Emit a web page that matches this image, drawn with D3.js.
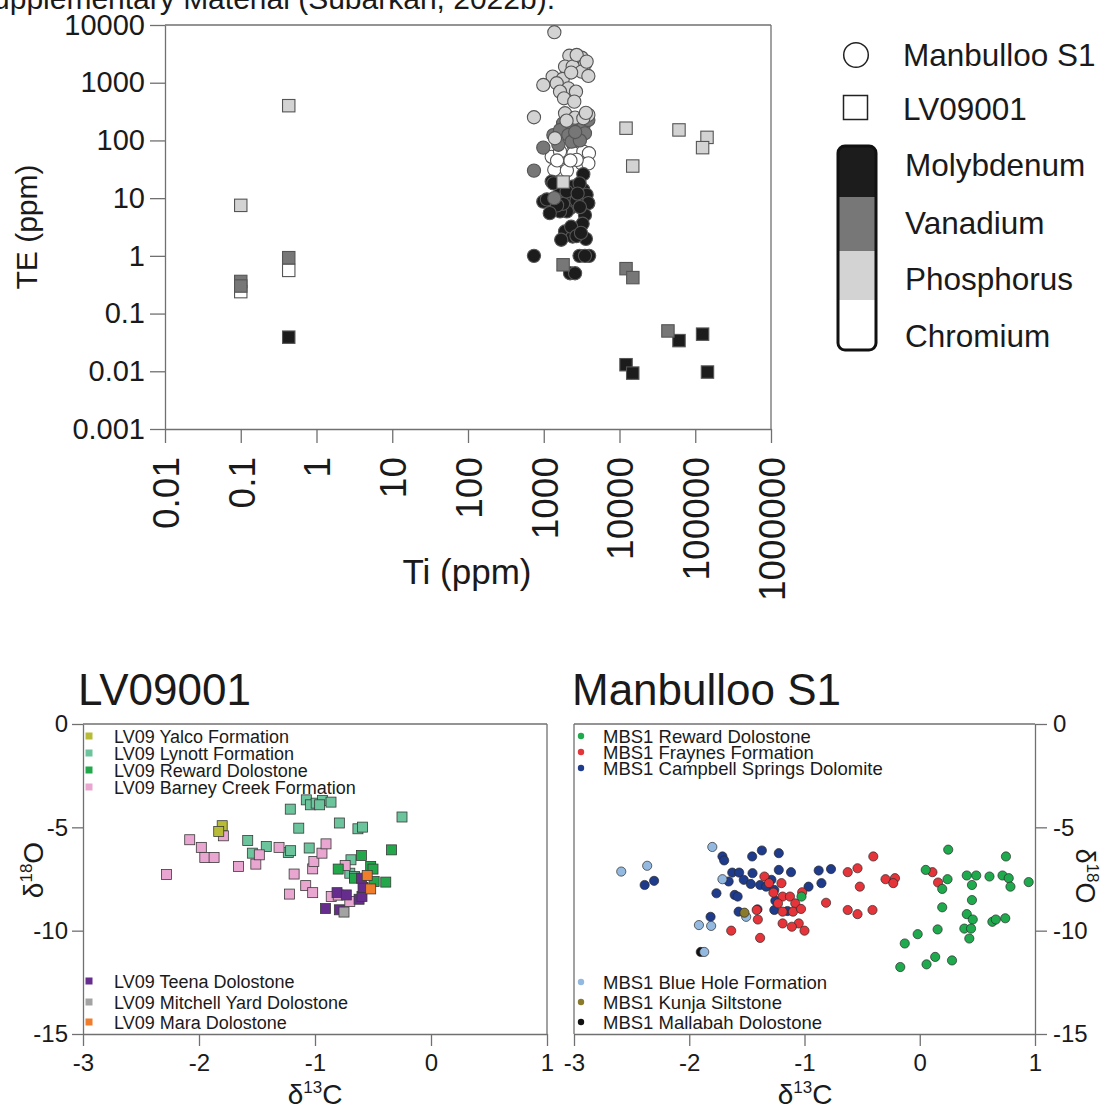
<!DOCTYPE html>
<html>
<head>
<meta charset="utf-8">
<script src="https://cdn.jsdelivr.net/npm/d3@7"></script>
<style>
  html, body { margin: 0; padding: 0; background: #fff; }
  svg { display: block; }
  text { font-family: "Liberation Sans", Arial, Helvetica, sans-serif; fill: #1a1a1a; }
</style>
</head>
<body>
<svg id="fig" width="1103" height="1111"></svg>
<script>
// ---------- Trace elements vs Ti (ppm) ----------
// Manbulloo S1 samples: [Ti, TE]
const mbsMolybdenum = [
  [3330, 26], [1273, 19.4], [3330, 13.9], [986, 8.7], [1406, 6.7], [1910, 10.6], [2225, 6.7],
  [3680, 11.4], [3880, 8.2], [3500, 5.1], [3260, 3.6], [1910, 2.64], [2410, 2.16], [3600, 1.97],
  [1700, 1.9], [743, 1.0], [2970, 1.0], [3970, 1.0], [3500, 1.0], [2225, 0.5], [2590, 0.5],
  [1640, 12.2], [2470, 15.9], [1483, 9.3], [2020, 5.9], [1640, 5.9], [1340, 18], [2970, 18],
  [1100, 9.5], [1800, 8], [2700, 9], [3000, 7], [2000, 13], [1500, 7.5], [2800, 12],
  [1200, 5.5], [2300, 3.2], [2700, 2.2], [3100, 2.5]
];
const mbsVanadium = [
  [986, 75], [743, 30], [1377, 10], [1340, 124], [1800, 198], [2470, 174], [3330, 174],
  [3880, 226], [1640, 152], [2110, 124], [2845, 124], [3500, 133], [2330, 95], [1560, 84],
  [2200, 210], [3000, 100], [2600, 140]
];
const mbsPhosphorus = [
  [1380, 7500], [2175, 2940], [3170, 2715], [3500, 2085], [1910, 1900], [2410, 1900],
  [3170, 1555], [3880, 1310], [1310, 1275], [1780, 1160], [986, 915], [1483, 980], [2110, 800],
  [2665, 700], [1640, 700], [1850, 537], [2530, 470], [743, 252], [1910, 296], [2590, 248],
  [3880, 277], [3330, 242], [1406, 109], [2720, 3030], [3680, 2320], [2300, 1500], [2000, 220],
  [3600, 300]
];
const mbsChromium = [
  [2505, 80], [1273, 52], [1800, 52], [2470, 60], [3330, 64], [3950, 60], [3170, 40],
  [1377, 31], [2020, 30], [3880, 40], [1640, 64], [2720, 46], [2250, 45], [1500, 45]
];
// LV09001 samples: [Ti, TE]
const lvMolybdenum = [[0.43, 0.039], [12200, 0.013], [14950, 0.0093], [61000, 0.034], [125000, 0.044], [145000, 0.0097]];
const lvVanadium = [[0.1, 0.36], [0.1, 0.30], [0.43, 0.93], [1800, 0.7], [12200, 0.6], [15000, 0.42], [43600, 0.05]];
const lvPhosphorus = [[0.1, 7.5], [0.43, 400], [1800, 19], [12200, 163], [14950, 36], [61000, 152], [143000, 113], [125000, 75]];
const lvChromium = [[0.1, 0.24], [0.43, 0.56]];

const teTicks = [0.001, 0.01, 0.1, 1, 10, 100, 1000, 10000];
const teTickLabels = ["0.001", "0.01", "0.1", "1", "10", "100", "1000", "10000"];
const tiTicks = [0.01, 0.1, 1, 10, 100, 1000, 10000, 100000, 1000000];
const tiTickLabels = ["0.01", "0.1", "1", "10", "100", "1000", "10000", "100000", "1000000"];

const elementNames = ["Molybdenum", "Vanadium", "Phosphorus", "Chromium"];
const elementFills = ["#1c1c1c", "#777777", "#d3d3d3", "#ffffff"];

// ---------- LV09001 carbon / oxygen isotopes: [d13C, d18O] ----------
const lvYalco = [[-1.80, -4.92], [-1.83, -5.2]];
const lvLynott = [
  [-1.075, -3.67], [-1.04, -3.91], [-0.99, -3.83], [-0.935, -3.7], [-0.862, -3.78], [-0.96, -3.91],
  [-1.213, -4.12], [-0.25, -4.5], [-0.79, -4.79], [-0.63, -5.07], [-0.59, -4.99], [-1.14, -5.04],
  [-1.58, -5.64], [-1.42, -5.93], [-1.54, -6.25], [-1.23, -6.22], [-1.21, -6.13], [-1.05, -6.0],
  [-0.69, -6.57], [-0.70, -7.22], [-0.66, -7.38]
];
const lvReward = [[-0.34, -6.09], [-0.60, -6.36], [-0.80, -7.02], [-0.52, -6.89], [-0.50, -7.02], [-0.39, -7.65], [-0.49, -7.62], [-0.66, -7.46]];
const lvBarneyCreek = [
  [-2.08, -5.6], [-1.98, -5.97], [-1.95, -6.46], [-1.87, -6.46], [-1.79, -5.41], [-2.28, -7.28],
  [-1.66, -6.89], [-1.51, -6.78], [-1.48, -6.33], [-1.31, -5.97], [-1.18, -7.26], [-1.22, -8.23],
  [-1.08, -7.82], [-1.02, -8.16], [-1.02, -7.01], [-1.01, -6.65], [-0.94, -6.25], [-0.905, -5.8],
  [-0.86, -8.35], [-0.80, -8.28], [-0.70, -8.59], [-0.74, -6.85]
];
const lvTeena = [[-0.91, -8.93], [-0.79, -8.99], [-0.81, -8.16], [-0.73, -8.27], [-0.62, -8.48], [-0.595, -8.35], [-0.586, -7.91], [-0.60, -7.46]];
const lvMitchellYard = [[-0.75, -9.1]];
const lvMara = [[-0.55, -7.33], [-0.52, -7.98]];

// ---------- Manbulloo S1 carbon / oxygen isotopes: [d13C, d18O] ----------
const mbsReward = [
  [0.247, -6.08], [0.748, -6.41], [0.052, -7.06], [0.241, -7.51], [0.408, -7.33], [0.49, -7.33],
  [0.605, -7.38], [0.718, -7.33], [0.772, -7.46], [0.787, -7.87], [0.945, -7.65], [0.453, -7.79],
  [0.195, -7.98], [-1.026, -8.35], [0.453, -8.52], [0.195, -8.87], [0.408, -9.2], [0.46, -9.46],
  [0.63, -9.57], [0.66, -9.46], [0.742, -9.4], [0.155, -9.94], [0.387, -9.9], [0.445, -9.9],
  [0.43, -10.38], [-0.018, -10.17], [-0.13, -10.62], [0.134, -11.27], [0.059, -11.63],
  [-0.169, -11.76], [0.28, -11.44]
];
const mbsFraynes = [
  [-0.403, -6.41], [-0.54, -6.98], [-0.625, -7.17], [-0.215, -7.46], [-0.297, -7.51], [-0.23, -7.7],
  [-0.52, -7.87], [0.11, -7.17], [0.159, -7.67], [-0.813, -8.65], [-0.625, -9.0], [-0.54, -9.2],
  [-0.41, -9.0], [-1.348, -7.38], [-1.308, -7.7], [-1.2, -7.7], [-1.27, -8.16], [-1.19, -8.35],
  [-1.126, -8.35], [-1.08, -8.68], [-1.02, -8.14], [-1.23, -8.68], [-1.19, -9.08], [-1.1, -9.08],
  [-1.03, -8.95], [-1.05, -9.65], [-1.19, -9.65], [-1.11, -9.81], [-1.0, -10.0], [-1.405, -9.46],
  [-1.415, -9.0], [-1.636, -10.0], [-1.385, -10.35]
];
const mbsCampbell = [
  [-1.37, -6.12], [-1.454, -6.41], [-1.223, -6.25], [-1.712, -6.41], [-1.697, -6.6], [-1.627, -7.19],
  [-1.567, -7.19], [-1.451, -7.22], [-1.223, -7.06], [-1.117, -7.17], [-0.877, -7.09], [-0.77, -7.02],
  [-0.853, -7.7], [-0.965, -7.87], [-1.658, -7.62], [-1.527, -7.54], [-1.466, -7.74], [-1.385, -7.79],
  [-1.333, -7.87], [-1.262, -8.03], [-1.764, -8.19], [-1.606, -8.27], [-1.58, -8.35], [-1.253, -8.55],
  [-1.262, -9.0], [-1.148, -9.05], [-1.408, -8.97], [-1.572, -9.08], [-1.815, -9.33], [-2.387, -7.79],
  [-2.305, -7.59], [-1.287, -7.54]
];
const mbsBlueHole = [[-1.8, -5.95], [-2.59, -7.14], [-2.365, -6.86], [-1.712, -7.51], [-1.916, -9.73], [-1.81, -9.77], [-1.87, -11.03], [-1.506, -9.33]];
const mbsKunja = [[-1.521, -9.13]];
const mbsMallabah = [[-1.9, -11.03]];

const c13Ticks = [-3, -2, -1, 0, 1];
const c13TickLabels = ["-3", "-2", "-1", "0", "1"];
const o18Ticks = [0, -5, -10, -15];
const o18TickLabels = ["0", "-5", "-10", "-15"];

const lvLegendTop = ["LV09 Yalco Formation", "LV09 Lynott Formation", "LV09 Reward Dolostone", "LV09 Barney Creek Formation"];
const lvLegendBottom = ["LV09 Teena Dolostone", "LV09 Mitchell Yard Dolostone", "LV09 Mara Dolostone"];
const mbsLegendTop = ["MBS1 Reward Dolostone", "MBS1 Fraynes Formation", "MBS1 Campbell Springs Dolomite"];
const mbsLegendBottom = ["MBS1 Blue Hole Formation", "MBS1 Kunja Siltstone", "MBS1 Mallabah Dolostone"];

// ---------- drawing ----------
const svg = d3.select("#fig");
const AXIS = "#707070";

function styleAxis(g, size) {
  g.select(".domain").attr("stroke", AXIS).attr("stroke-width", 1.3);
  g.selectAll(".tick line").attr("stroke", AXIS).attr("stroke-width", 1.3);
  g.selectAll(".tick text").attr("font-size", size).attr("fill", "#1a1a1a")
    .attr("font-family", "Liberation Sans, Arial, sans-serif");
}
function hline(x0, x1, y) {
  svg.append("line").attr("x1", x0).attr("x2", x1).attr("y1", y).attr("y2", y)
    .attr("stroke", AXIS).attr("stroke-width", 1.3);
}
function vline(x, y0, y1) {
  svg.append("line").attr("x1", x).attr("x2", x).attr("y1", y0).attr("y2", y1)
    .attr("stroke", AXIS).attr("stroke-width", 1.3);
}

// Header line cut by the page edge
svg.append("text").attr("x", 555).attr("y", 9).attr("text-anchor", "end")
  .attr("font-size", 30).text("Supplementary Material (Subarkah, 2022b).");

// ===== Top panel: TE vs Ti (log-log) =====
const xTi = d3.scaleLog().domain([0.01, 1e6]).range([165, 771]);
const yTE = d3.scaleLog().domain([0.001, 1e4]).range([429, 25]);

const gyT = svg.append("g").attr("transform", "translate(165,0)")
  .call(d3.axisLeft(yTE).tickValues(teTicks).tickFormat((d, i) => teTickLabels[i])
    .tickSize(15).tickSizeOuter(0).tickPadding(5));
styleAxis(gyT, 29);

const gxT = svg.append("g").attr("transform", "translate(0,429)")
  .call(d3.axisBottom(xTi).tickValues(tiTicks).tickFormat((d, i) => tiTickLabels[i])
    .tickSize(14).tickSizeOuter(0));
styleAxis(gxT, 37);
gxT.selectAll(".tick text").attr("transform", "rotate(-90)")
  .attr("x", -28).attr("y", 0).attr("dy", "0.36em").attr("text-anchor", "end");

hline(165, 771, 25);
vline(771, 25, 429);

svg.append("text").attr("transform", "translate(37,227) rotate(-90)")
  .attr("text-anchor", "middle").attr("font-size", 30).text("TE (ppm)");
svg.append("text").attr("x", 467).attr("y", 584).attr("text-anchor", "middle")
  .attr("font-size", 35).text("Ti (ppm)");

const topPlot = svg.append("g");
const circleSeries = [mbsChromium, mbsMolybdenum, mbsVanadium, mbsPhosphorus];
const circleFills = [elementFills[3], elementFills[0], elementFills[1], elementFills[2]];
circleSeries.forEach((s, k) => {
  topPlot.append("g").selectAll("circle").data(s).join("circle")
    .attr("cx", d => xTi(d[0])).attr("cy", d => yTE(d[1])).attr("r", 6.6)
    .attr("fill", circleFills[k]).attr("stroke", "#555").attr("stroke-width", 1.1);
});
const squareSeries = [lvChromium, lvMolybdenum, lvVanadium, lvPhosphorus];
squareSeries.forEach((s, k) => {
  topPlot.append("g").selectAll("rect").data(s).join("rect")
    .attr("x", d => xTi(d[0]) - 6.2).attr("y", d => yTE(d[1]) - 6.2)
    .attr("width", 12.4).attr("height", 12.4)
    .attr("fill", circleFills[k]).attr("stroke", "#555").attr("stroke-width", 1.1);
});

// Top legend
svg.append("circle").attr("cx", 856).attr("cy", 55).attr("r", 12.3)
  .attr("fill", "#fff").attr("stroke", "#222").attr("stroke-width", 1.5);
svg.append("text").attr("x", 903).attr("y", 66).attr("font-size", 31.5).text("Manbulloo S1");
svg.append("rect").attr("x", 843.5).attr("y", 95.5).attr("width", 24).attr("height", 24)
  .attr("fill", "#fff").attr("stroke", "#222").attr("stroke-width", 1.5);
svg.append("text").attr("x", 903).attr("y", 120).attr("font-size", 31.5).text("LV09001");

const segEdges = [146, 197, 251, 300, 350];
const labelBase = [176, 234, 290, 347];
const bar = svg.append("g");
bar.append("clipPath").attr("id", "barClip").append("rect")
  .attr("x", 838).attr("y", 146).attr("width", 38).attr("height", 204).attr("rx", 7);
elementNames.forEach((n, i) => {
  bar.append("rect").attr("clip-path", "url(#barClip)")
    .attr("x", 838).attr("y", segEdges[i]).attr("width", 38).attr("height", segEdges[i + 1] - segEdges[i])
    .attr("fill", elementFills[i]);
  svg.append("text").attr("x", 905).attr("y", labelBase[i]).attr("font-size", 31.5).text(n);
});
bar.append("rect").attr("x", 838).attr("y", 146).attr("width", 38).attr("height", 204).attr("rx", 7)
  .attr("fill", "none").attr("stroke", "#111").attr("stroke-width", 3);

// ===== Isotope panels =====
function deltaLabel(sel, iso, el) {
  sel.append("tspan").text("δ");
  sel.append("tspan").attr("font-size", 17).attr("dy", -11).text(iso);
  sel.append("tspan").attr("dy", 11).text(el);
}

const yIso = d3.scaleLinear().domain([-15, 0]).range([1034, 724]);

// LV09001 panel
const xL = d3.scaleLinear().domain([-3, 1]).range([83, 547]);
const gyL = svg.append("g").attr("transform", "translate(83,0)")
  .call(d3.axisLeft(yIso).tickValues(o18Ticks).tickFormat((d, i) => o18TickLabels[i])
    .tickSize(11).tickSizeOuter(0).tickPadding(4));
styleAxis(gyL, 24);
const gxL = svg.append("g").attr("transform", "translate(0,1034)")
  .call(d3.axisBottom(xL).tickValues(c13Ticks).tickFormat((d, i) => c13TickLabels[i])
    .tickSize(12).tickSizeOuter(0).tickPadding(8));
styleAxis(gxL, 24);
hline(83, 547, 724);
vline(547, 724, 1034);

svg.append("text").attr("x", 78).attr("y", 705).attr("font-size", 44).text("LV09001");
deltaLabel(svg.append("text").attr("x", 315).attr("y", 1104).attr("text-anchor", "middle").attr("font-size", 28), "13", "C");
deltaLabel(svg.append("text").attr("transform", "translate(43,870) rotate(-90)").attr("text-anchor", "middle").attr("font-size", 28), "18", "O");

const lvSeries = [lvLynott, lvBarneyCreek, lvReward, lvTeena, lvMitchellYard, lvMara, lvYalco];
const lvColors = ["#6cc49c", "#e9a6d0", "#22a84a", "#662d8f", "#a3a3a3", "#f07d2b", "#b8bb36"];
lvSeries.forEach((s, k) => {
  svg.append("g").selectAll("rect").data(s).join("rect")
    .attr("x", d => xL(d[0]) - 5).attr("y", d => yIso(d[1]) - 5)
    .attr("width", 10).attr("height", 10)
    .attr("fill", lvColors[k]).attr("stroke", "#3a3a3a").attr("stroke-width", 0.8);
});
const lvLegendColorsTop = ["#b8bb36", "#6cc49c", "#22a84a", "#e9a6d0"];
const lvLegendColorsBottom = ["#662d8f", "#a3a3a3", "#f07d2b"];
const lvTopY = [736, 753, 770, 787];
const lvBotY = [981, 1002, 1022];
lvLegendTop.forEach((t, i) => {
  svg.append("rect").attr("x", 85.5).attr("y", lvTopY[i] - 3.5).attr("width", 7).attr("height", 7).attr("fill", lvLegendColorsTop[i]);
  svg.append("text").attr("x", 114).attr("y", lvTopY[i] + 6.5).attr("font-size", 18).text(t);
});
lvLegendBottom.forEach((t, i) => {
  svg.append("rect").attr("x", 85.5).attr("y", lvBotY[i] - 3.5).attr("width", 7).attr("height", 7).attr("fill", lvLegendColorsBottom[i]);
  svg.append("text").attr("x", 114).attr("y", lvBotY[i] + 6.5).attr("font-size", 18).text(t);
});

// Manbulloo S1 panel
const xR = d3.scaleLinear().domain([-3, 1]).range([574, 1035]);
const gyR = svg.append("g").attr("transform", "translate(1035,0)")
  .call(d3.axisRight(yIso).tickValues(o18Ticks).tickFormat((d, i) => o18TickLabels[i])
    .tickSize(12).tickSizeOuter(0).tickPadding(6));
styleAxis(gyR, 24);
const gxR = svg.append("g").attr("transform", "translate(0,1034)")
  .call(d3.axisBottom(xR).tickValues(c13Ticks).tickFormat((d, i) => c13TickLabels[i])
    .tickSize(12).tickSizeOuter(0).tickPadding(8));
styleAxis(gxR, 24);
hline(574, 1035, 724);
vline(574, 724, 1034);

svg.append("text").attr("x", 572).attr("y", 705).attr("font-size", 44).text("Manbulloo S1");
deltaLabel(svg.append("text").attr("x", 805).attr("y", 1104).attr("text-anchor", "middle").attr("font-size", 28), "13", "C");
deltaLabel(svg.append("text").attr("transform", "translate(1076,876) rotate(90)").attr("text-anchor", "middle").attr("font-size", 27), "18", "O");

const mbsSeries = [mbsCampbell, mbsFraynes, mbsReward, mbsMallabah, mbsBlueHole, mbsKunja];
const mbsColors = ["#1f3b8c", "#e5343a", "#1faa4e", "#111111", "#93b9e0", "#8a7a2c"];
mbsSeries.forEach((s, k) => {
  svg.append("g").selectAll("circle").data(s).join("circle")
    .attr("cx", d => xR(d[0])).attr("cy", d => yIso(d[1])).attr("r", 4.6)
    .attr("fill", mbsColors[k]).attr("stroke", "#2a2a2a").attr("stroke-width", 0.7);
});
const mbsLegendColorsTop = ["#1faa4e", "#e5343a", "#1f3b8c"];
const mbsLegendColorsBottom = ["#93b9e0", "#8a7a2c", "#111111"];
const mbsTopY = [736, 752, 768];
const mbsBotY = [982, 1002, 1022];
mbsLegendTop.forEach((t, i) => {
  svg.append("circle").attr("cx", 581).attr("cy", mbsTopY[i]).attr("r", 3.2).attr("fill", mbsLegendColorsTop[i]);
  svg.append("text").attr("x", 603).attr("y", mbsTopY[i] + 6.5).attr("font-size", 18.5).text(t);
});
mbsLegendBottom.forEach((t, i) => {
  svg.append("circle").attr("cx", 581).attr("cy", mbsBotY[i]).attr("r", 3.2).attr("fill", mbsLegendColorsBottom[i]);
  svg.append("text").attr("x", 603).attr("y", mbsBotY[i] + 6.5).attr("font-size", 18.5).text(t);
});
</script>
</body>
</html>
